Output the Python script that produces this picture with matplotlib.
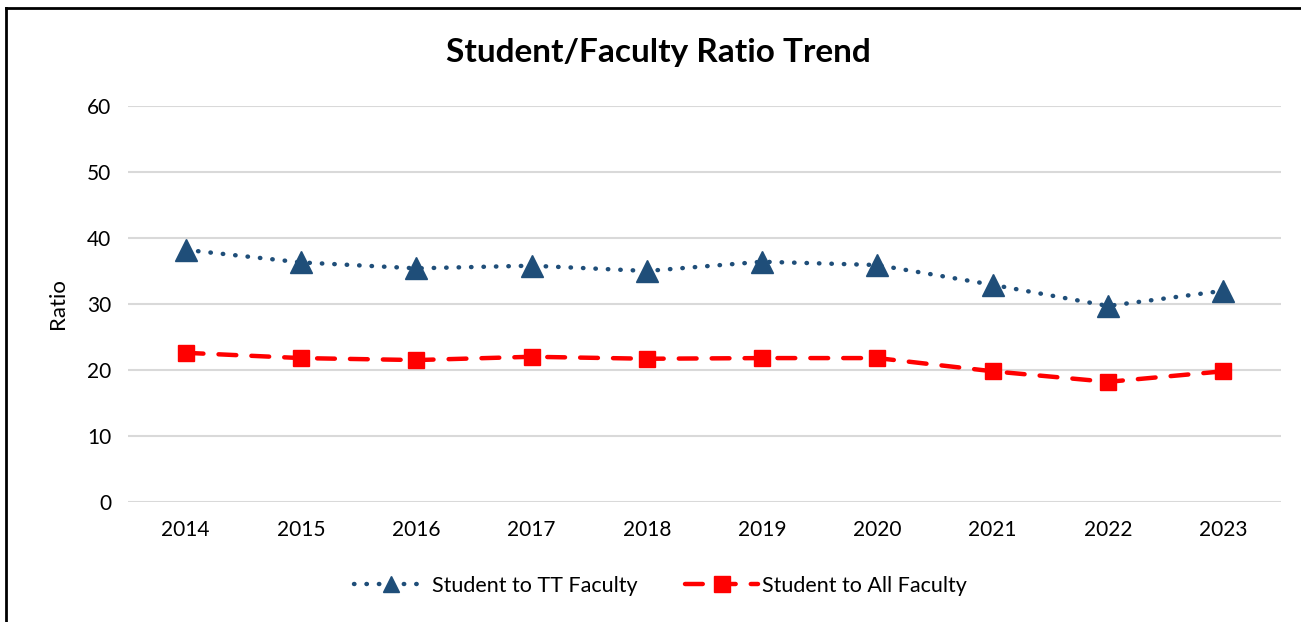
import matplotlib.pyplot as plt
from matplotlib.lines import Line2D

plt.rcParams['font.family'] = ['Lato', 'DejaVu Sans']

# --- Data ---
years = ['2014', '2015', '2016', '2017', '2018', '2019', '2020', '2021', '2022', '2023']
tt_faculty = [38.2, 36.3, 35.4, 35.8, 35.0, 36.4, 35.9, 32.9, 29.7, 32.0]
all_faculty = [22.6, 21.8, 21.5, 22.0, 21.7, 21.8, 21.8, 19.8, 18.2, 19.8]
yticks = [0, 10, 20, 30, 40, 50, 60]

navy = '#1f4e79'
red = '#ff0000'

fig = plt.figure(figsize=(13.01, 6.22), dpi=100)
ax = fig.add_axes([0.0984, 0.193, 0.8862, 0.6366])

x = range(len(years))
ax.plot(x, tt_faculty, color=navy, lw=3.2, linestyle=(0, (0.1, 2.7)),
        dash_capstyle='round', marker='^', markersize=16,
        label='Student to TT Faculty')
ax.plot(x, all_faculty, color=red, lw=3.2, linestyle=(0, (4, 3.4)),
        dash_capstyle='round', marker='s', markersize=12,
        label='Student to All Faculty')

ax.set_xlim(-0.5, len(years) - 0.5)
ax.set_ylim(0, 60)
ax.set_xticks(list(x))
ax.set_xticklabels(years)
ax.set_yticks(yticks)
ax.tick_params(length=0, labelsize=15, pad=12)
ax.tick_params(axis='x', pad=13)
ax.grid(axis='y', color='#d9d9d9', lw=1.5)
ax.set_axisbelow(True)
for s in ax.spines.values():
    s.set_visible(False)

ax.set_ylabel('Ratio', fontsize=16, labelpad=14)
fig.text(0.506, 0.916, 'Student/Faculty Ratio Trend', ha='center', va='center',
         fontsize=24, fontweight='bold')

handles = [
    Line2D([], [], color=navy, lw=3.2, linestyle=(0, (0.1, 2.7)),
           dash_capstyle='round', marker='^', markersize=11),
    Line2D([], [], color=red, lw=3.2, linestyle=(0, (4, 3.4)),
           dash_capstyle='round', marker='s', markersize=11),
]
fig.legend(handles, ['Student to TT Faculty', 'Student to All Faculty'],
           loc='center', bbox_to_anchor=(0.508, 0.058), ncol=2, frameon=False,
           fontsize=15.5, handlelength=3.4, columnspacing=2.2, handletextpad=0.2)

# frame lines (left and top only)
fig.add_artist(Line2D([6 / 1301, 6 / 1301], [0, 1 - 8 / 622], color='black',
                      lw=2, transform=fig.transFigure))
fig.add_artist(Line2D([6 / 1301, 1], [1 - 8 / 622, 1 - 8 / 622], color='black',
                      lw=2, transform=fig.transFigure))

fig.savefig('out.png', dpi=100)
